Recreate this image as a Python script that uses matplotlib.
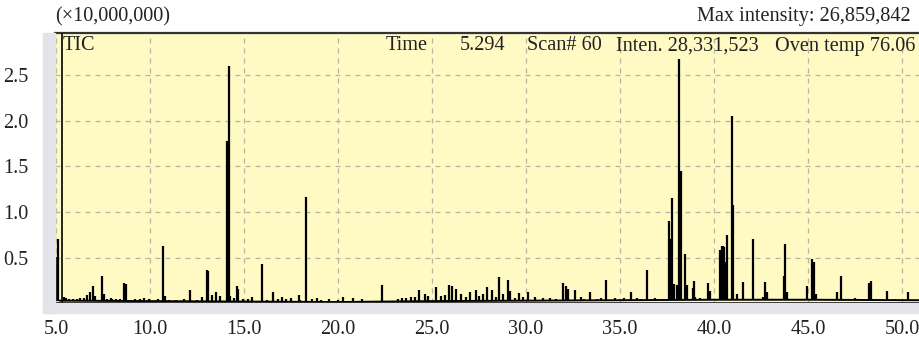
import numpy as np
import matplotlib.pyplot as plt
from matplotlib.patches import Rectangle
from matplotlib.ticker import MultipleLocator, FixedLocator

# Peaks of the TIC trace: retention time (min) and height (x10,000,000)
peak_times = [5.00, 5.05, 5.12, 5.40, 5.55, 5.90, 6.30, 6.63, 6.80, 6.98, 7.10, 7.43, 7.55,
              7.90, 8.20, 8.62, 8.72, 9.20, 9.70, 10.68, 10.80, 11.40, 12.13, 12.75, 13.02,
              13.08, 13.28, 13.51, 13.70, 14.08, 14.20, 14.28, 14.45, 14.64, 14.70, 15.44,
              15.94, 16.56, 17.00, 17.50, 17.94, 18.28, 18.87, 19.50, 20.27, 20.80, 21.26,
              22.36, 23.20, 23.60, 23.90, 24.30, 24.60, 25.20, 25.50, 25.90, 26.05, 26.30,
              26.55, 27.00, 27.35, 27.70, 27.90, 28.20, 28.57, 28.80, 29.06, 29.15, 29.60,
              30.10, 30.50, 30.90, 31.30, 31.98, 32.10, 32.25, 32.60, 32.90, 33.40, 34.00,
              34.26, 34.75, 35.20, 35.60, 35.90, 36.42, 36.85, 37.30, 37.62, 37.70, 37.78,
              37.85, 38.03, 38.14, 38.22, 38.45, 38.55, 38.90, 38.95, 39.25, 39.70, 39.80,
              40.32, 40.40, 40.47, 40.55, 40.62, 40.71, 40.96, 41.03, 41.20, 41.53, 42.06,
              42.60, 42.72, 42.80, 43.70, 43.77, 43.87, 44.93, 45.23, 45.30, 45.40, 46.52,
              46.74, 47.50, 48.25, 48.35, 49.22, 50.30,
              # small baseline bumps
              5.70, 6.10, 6.50, 7.70, 8.00, 8.40, 9.00, 9.45, 9.95, 10.40, 11.00, 11.80,
              12.50, 14.95, 15.20, 16.20, 16.80, 17.25, 18.00, 18.60, 19.10, 20.00, 23.40,
              24.10, 24.80, 25.70, 26.80, 27.50, 28.40, 29.40, 29.85, 31.60, 33.10, 33.80,
              36.10, 39.00, 41.80, 44.20, 46.00, 47.10, 49.60]
peak_heights = [0.33, 0.51, 0.70, 0.07, 0.06, 0.05, 0.06, 0.09, 0.12, 0.19, 0.08, 0.30, 0.10,
                0.06, 0.05, 0.22, 0.21, 0.05, 0.06, 0.63, 0.08, 0.04, 0.15, 0.07, 0.37,
                0.35, 0.09, 0.13, 0.08, 1.78, 2.60, 0.08, 0.06, 0.19, 0.16, 0.07,
                0.43, 0.12, 0.07, 0.06, 0.09, 1.16, 0.06, 0.05, 0.07, 0.06, 0.05,
                0.20, 0.05, 0.06, 0.07, 0.15, 0.10, 0.18, 0.08, 0.20, 0.19, 0.16,
                0.10, 0.13, 0.15, 0.10, 0.18, 0.15, 0.29, 0.10, 0.26, 0.14, 0.11,
                0.12, 0.07, 0.06, 0.06, 0.22, 0.19, 0.16, 0.15, 0.07, 0.12, 0.06,
                0.26, 0.06, 0.06, 0.13, 0.06, 0.37, 0.06, 0.05, 0.90, 0.70, 1.15,
                0.21, 0.20, 2.67, 1.45, 0.54, 0.20, 0.17, 0.24, 0.06, 0.22, 0.14,
                0.58, 0.63, 0.63, 0.62, 0.45, 0.75, 2.05, 1.08, 0.10, 0.23, 0.71,
                0.07, 0.23, 0.13, 0.30, 0.65, 0.12, 0.19, 0.49, 0.45, 0.10, 0.13,
                0.30, 0.06, 0.22, 0.25, 0.14, 0.12,
                0.05, 0.045, 0.06, 0.05, 0.045, 0.05, 0.04, 0.05, 0.045, 0.05, 0.04, 0.045,
                0.04, 0.05, 0.045, 0.04, 0.05, 0.045, 0.04, 0.045, 0.04, 0.04, 0.06,
                0.07, 0.08, 0.09, 0.07, 0.08, 0.07, 0.06, 0.07, 0.05, 0.05, 0.05,
                0.05, 0.07, 0.05, 0.05, 0.05, 0.05, 0.05]

# Baseline drift of the trace
base_times = [5.2, 10.0, 15.0, 20.0, 25.0, 30.0, 35.0, 40.0, 45.0, 50.9]
base_levels = [0.03, 0.025, 0.02, 0.015, 0.025, 0.03, 0.035, 0.04, 0.04, 0.035]

x_ticks = [5.0, 10.0, 15.0, 20.0, 25.0, 30.0, 35.0, 40.0, 45.0, 50.0]
y_ticks = [0.5, 1.0, 1.5, 2.0, 2.5]
cursor_time = 5.294

W, H = 919, 342
plt.rcParams['font.family'] = ['Liberation Serif', 'DejaVu Serif']
txt_color = '#222222'
fs = 14.6

fig = plt.figure(figsize=(W / 100, H / 100), dpi=100)

def fx(px):
    return px / W

def fy(py):
    return (H - py) / H

# grey tick band around the plot
band = '#e3e3ea'
fig.patches.append(Rectangle((fx(43), fy(313)), fx(W) - fx(43), fy(303) - fy(313),
                             transform=fig.transFigure, color=band, zorder=0))
fig.patches.append(Rectangle((fx(43), fy(313)), fx(55) - fx(43), fy(33) - fy(313),
                             transform=fig.transFigure, color=band, zorder=0))

ax = fig.add_axes([fx(55), fy(303.4), 1 - fx(55), fy(33) - fy(303.4)])
ax.set_facecolor('#fff9c4')
ax.set_xlim(4.947, 50.9)
ax.set_ylim(0, 2.96)

bt = np.array(peak_times)
bases = np.interp(bt, base_times, base_levels)
ax.plot(base_times, base_levels, color='black', lw=1.4, zorder=3)
ax.vlines(bt, bases, peak_heights, color='black', lw=1.6, zorder=3)
ax.axvline(cursor_time, color='black', lw=1.2, zorder=4)

ax.xaxis.set_major_locator(FixedLocator(x_ticks))
ax.xaxis.set_minor_locator(MultipleLocator(1.0))
ax.yaxis.set_major_locator(FixedLocator(y_ticks))
ax.yaxis.set_minor_locator(MultipleLocator(0.1))
ax.set_xticklabels([f'{v:.1f}' for v in x_ticks])
ax.set_yticklabels([f'{v:.1f}' for v in y_ticks])

ax.tick_params(axis='both', which='major', length=7, width=1.2, color='#333333',
               labelsize=fs, labelcolor=txt_color)
ax.tick_params(axis='both', which='minor', length=4, width=1.0, color='#333333')
ax.tick_params(axis='x', which='major', pad=5)
ax.tick_params(axis='y', which='major', pad=12)

ax.grid(True, which='major', color='#b8b4a0', lw=0.9, linestyle=(0, (4, 4)), zorder=1)
ax.set_axisbelow(True)

ax.spines['right'].set_visible(False)
ax.spines['top'].set_color('#333333')
ax.spines['top'].set_linewidth(1.6)
ax.spines['bottom'].set_color('black')
ax.spines['bottom'].set_linewidth(2.0)
ax.spines['left'].set_color('#777777')
ax.spines['left'].set_linewidth(0.8)

fig.text(fx(55), fy(17), '(\u00d710,000,000)', fontsize=fs, color=txt_color,
         ha='left', va='center')
fig.text(fx(911), fy(17), 'Max intensity: 26,859,842', fontsize=fs, color=txt_color,
         ha='right', va='center')

hy = fy(46)
fig.text(fx(63), hy, 'TIC', fontsize=fs, color=txt_color, ha='left', va='center')
fig.text(fx(428), hy, 'Time', fontsize=fs, color=txt_color, ha='right', va='center')
fig.text(fx(460), hy, '5.294', fontsize=fs, color=txt_color, ha='left', va='center')
fig.text(fx(527), hy, 'Scan# 60', fontsize=fs, color=txt_color, ha='left', va='center')
fig.text(fx(616), hy, 'Inten. 28,331,523', fontsize=fs, color=txt_color, ha='left', va='center')
fig.text(fx(915), hy, 'Oven temp 76.06', fontsize=fs, color=txt_color, ha='right', va='center')

fig.savefig('out.png', dpi=100)
